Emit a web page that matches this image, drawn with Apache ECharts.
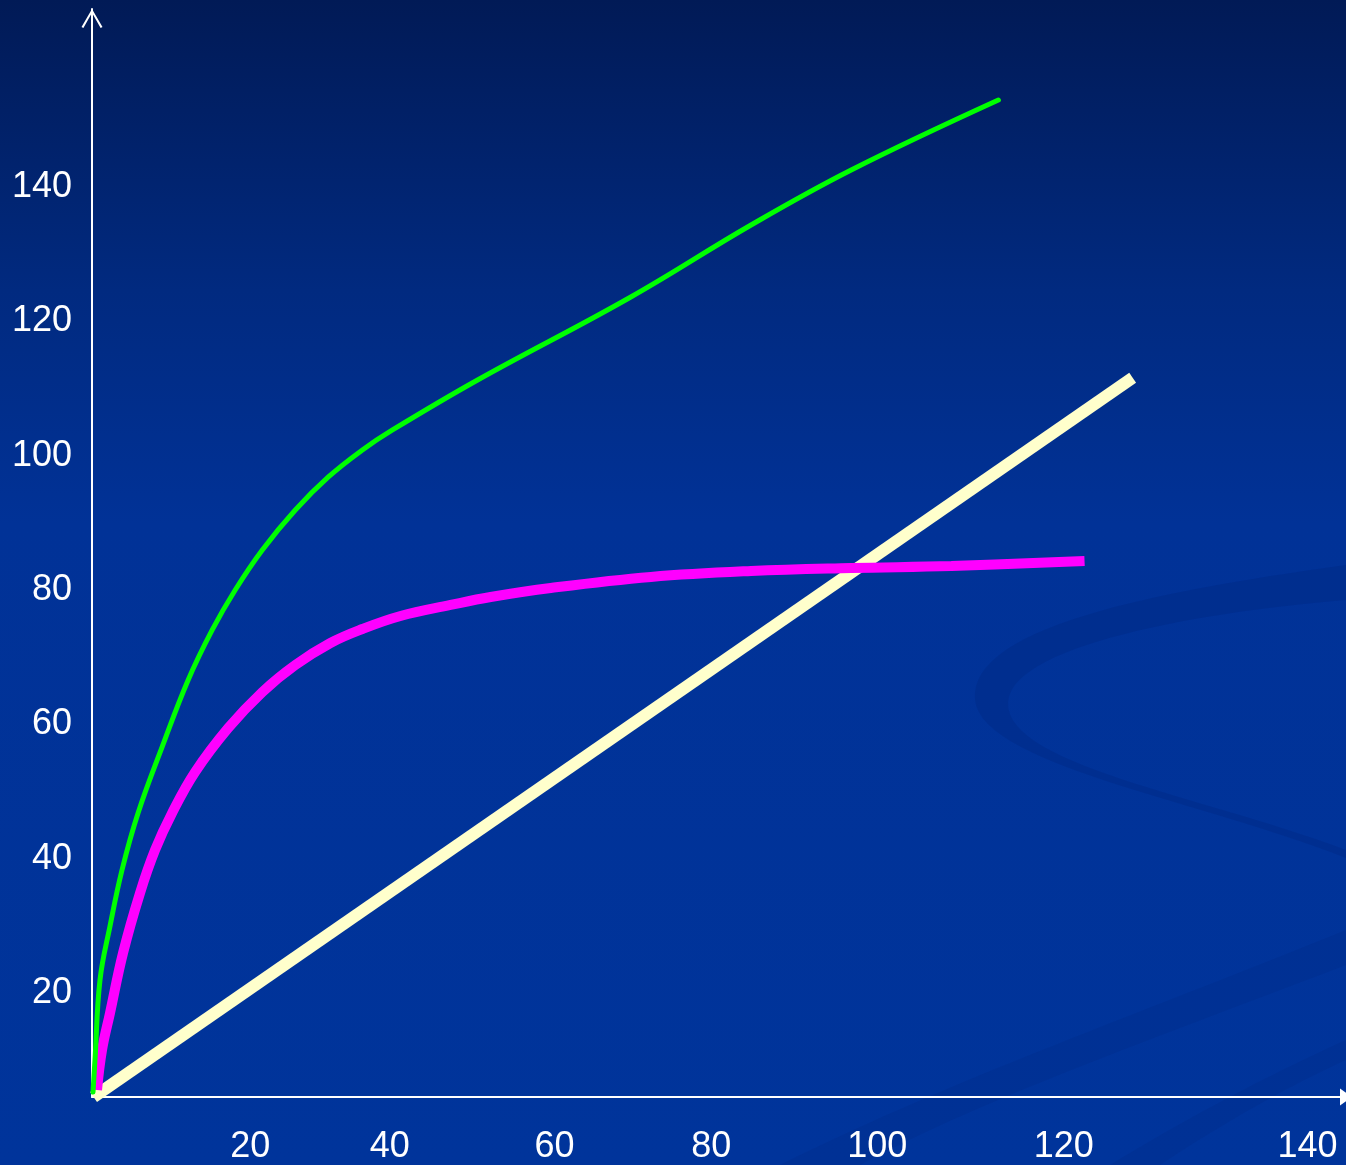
<!DOCTYPE html>
<html><head><meta charset="utf-8">
<script src="https://cdn.jsdelivr.net/npm/echarts@6/dist/echarts.min.js"></script>
<style>html,body{margin:0;padding:0;width:1346px;height:1165px;overflow:hidden;background:#003399}#c{width:1346px;height:1165px}</style>
</head><body><div id="c"></div>
<script>
// ---- data ----
const yTickValues = [20, 40, 60, 80, 100, 120, 140];
const xTickLabels = ['20', '40', '60', '80', '100', '120', '140'];
const xTickAt = [20.2, 38, 59, 79, 100.2, 124, 155.1];

const greenX = [0.13, 0.38, 1.02, 2.30, 3.83, 5.88, 8.95, 12.27, 15.34, 18.27, 21.73, 25.94, 30.16, 34.50, 38.34, 49.20, 68.75, 84.09, 96.87, 115.65];
const greenY = [5.24, 10.0, 21.92, 29.96, 38.3, 46.79, 56.62, 66.59, 74.04, 79.99, 85.95, 91.90, 96.82, 100.84, 103.82, 111.26, 123.62, 134.34, 142.53, 152.95];

const magentaX = [0.64, 1.28, 2.30, 3.96, 6.13, 8.05, 10.22, 13.16, 17.38, 21.73, 25.94, 30.42, 34.50, 39.36, 45.75, 50.86, 58.53, 71.31, 84.09, 96.87, 109.65, 126.64];
const magentaY = [5.54, 11.5, 17.01, 25.94, 34.88, 41.28, 46.79, 52.89, 59.44, 64.80, 68.82, 72.10, 74.18, 76.12, 77.76, 78.95, 80.29, 81.93, 82.82, 83.27, 83.56, 84.31];

const yellowX = [0.2, 132.78];
const yellowY = [4.5, 111.6];

const xMin = 0, xMax = 160;
const yMin = 4.5, yMax = 166.5;

function zip(a, b) { return a.map((v, i) => [v, b[i]]); }

// decorative background swooshes (not data)
function bez(p0, p1, p2, p3, n) {
  const out = [];
  for (let i = 0; i <= n; i++) {
    const t = i / n, u = 1 - t;
    out.push([
      u*u*u*p0[0] + 3*u*u*t*p1[0] + 3*u*t*t*p2[0] + t*t*t*p3[0],
      u*u*u*p0[1] + 3*u*u*t*p1[1] + 3*u*t*t*p2[1] + t*t*t*p3[1]
    ]);
  }
  return out;
}
function shape(segs) { let pts = []; segs.forEach(s => { pts = pts.concat(s); }); return pts; }

const swoosh1 = shape([
  bez([1346,565],[1150,592],[968,628],[975,700],30),
  bez([975,700],[982,765],[1200,800],[1346,858],30),
  [[1346,850]],
  bez([1346,850],[1200,795],[1005,765],[1008,702],30),
  bez([1008,702],[1012,645],[1200,612],[1346,600],30)
]);
const swoosh2 = shape([
  bez([780,1165],[950,1080],[1150,1010],[1346,930],30),
  [[1346,965]],
  bez([1346,965],[1150,1040],[980,1100],[860,1165],30)
]);
const swoosh3 = shape([
  bez([1110,1165],[1200,1110],[1280,1070],[1346,1040],20),
  [[1346,1060]],
  bez([1346,1060],[1290,1085],[1220,1125],[1160,1165],20)
]);

const chart = echarts.init(document.getElementById('c'), null, { renderer: 'canvas' });
const labelFont = { color: '#ffffff', fontFamily: '"Liberation Sans", Arial, sans-serif', fontSize: 36 };

chart.setOption({
  animation: false,
  backgroundColor: {
    type: 'linear', x: 0, y: 0, x2: 0, y2: 1,
    colorStops: [
      { offset: 0, color: '#011a56' },
      { offset: 0.25, color: '#012a80' },
      { offset: 0.45, color: '#013297' },
      { offset: 1, color: '#00349b' }
    ]
  },
  graphic: [
    { type: 'polygon', silent: true, z: -10, shape: { points: swoosh1 }, style: { fill: 'rgba(0,30,110,0.2)' } },
    { type: 'polygon', silent: true, z: -10, shape: { points: swoosh2 }, style: { fill: 'rgba(0,30,110,0.12)' } },
    { type: 'polygon', silent: true, z: -10, shape: { points: swoosh3 }, style: { fill: 'rgba(0,30,110,0.12)' } }
  ],
  grid: { left: 92, right: 0, top: 9, bottom: 68, containLabel: false },
  xAxis: {
    type: 'value', min: xMin, max: xMax,
    axisLine: { show: true, onZero: false, lineStyle: { color: '#ffffff', width: 2 },
      symbol: ['none', 'triangle'], symbolSize: [17, 12], symbolOffset: [0, 0] },
    axisTick: { show: false },
    splitLine: { show: false },
    axisLabel: {
      ...labelFont, margin: 32, customValues: xTickAt,
      formatter: function (v) { const i = xTickAt.indexOf(v); return i >= 0 ? xTickLabels[i] : ''; }
    }
  },
  yAxis: {
    type: 'value', min: yMin, max: yMax,
    axisLine: { show: true, onZero: false, lineStyle: { color: '#ffffff', width: 2 },
      symbol: ['none', 'path://M10,0 L20,17 L18.2,18 L10,3.6 L1.8,18 L0,17 Z'], symbolSize: [21, 19], symbolOffset: [0, -9.5] },
    axisTick: { show: false },
    splitLine: { show: false },
    axisLabel: { ...labelFont, margin: 20, padding: [7, 0, 0, 0], customValues: yTickValues, formatter: function (v) { return String(v); } }
  },
  series: [
    { type: 'line', name: 'yellow', data: zip(yellowX, yellowY), showSymbol: false, clip: false, z: 3,
      lineStyle: { color: '#ffffcc', width: 12, cap: 'butt' } },
    { type: 'line', name: 'magenta', data: zip(magentaX, magentaY), showSymbol: false, clip: false, z: 4,
      smooth: 0.4, lineStyle: { color: '#ff00ff', width: 10, cap: 'butt' } },
    { type: 'line', name: 'green', data: zip(greenX, greenY), showSymbol: false, clip: false, z: 5,
      smooth: 0.4, lineStyle: { color: '#00ff00', width: 5, cap: 'round' } }
  ]
});
</script>
</body></html>
